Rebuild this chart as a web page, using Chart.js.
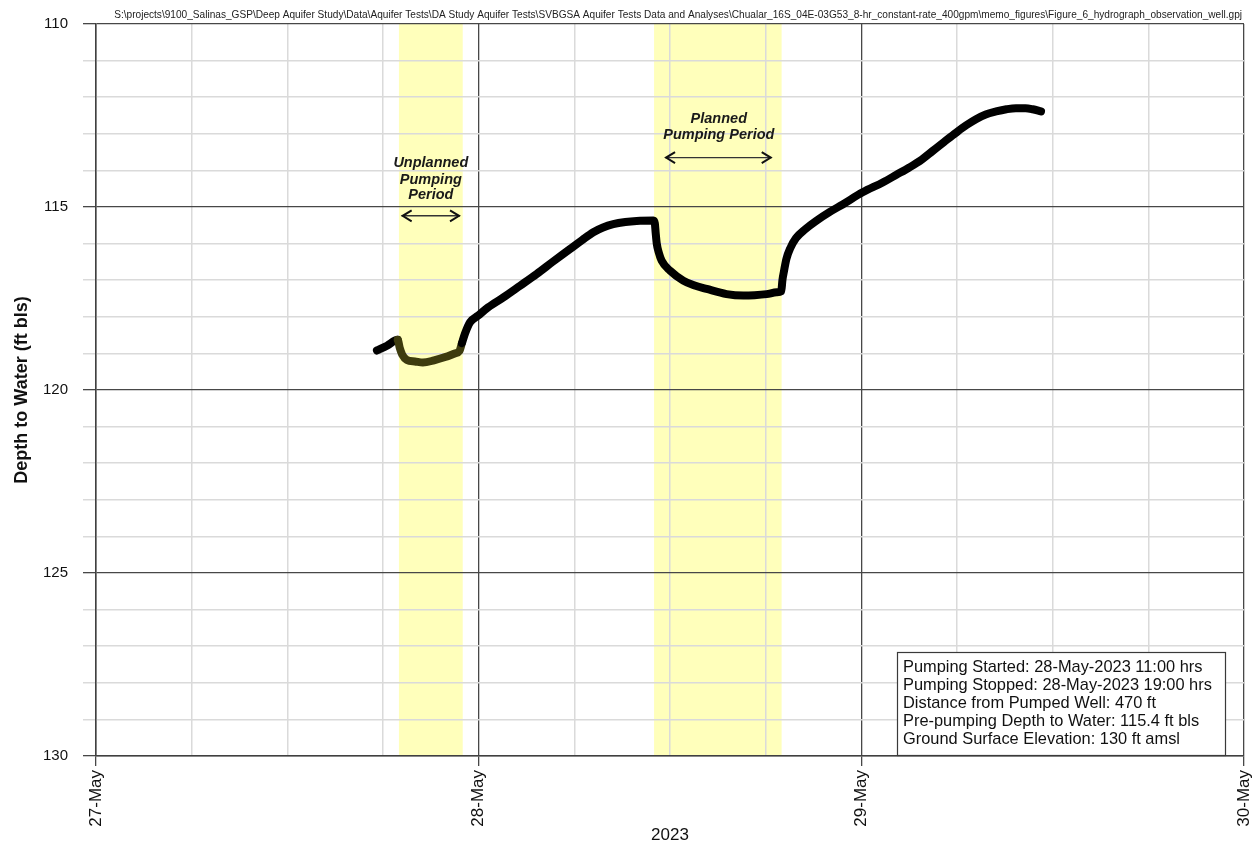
<!DOCTYPE html>
<html>
<head>
<meta charset="utf-8">
<title>Figure 6 - Hydrograph, Observation Well</title>
<script src="https://cdn.jsdelivr.net/npm/chart.js@4.4.1/dist/chart.umd.min.js"></script>
<style>
  html, body { margin: 0; padding: 0; background: #ffffff; }
  canvas { display: block; }
</style>
</head>
<body>
<canvas id="hydrograph" width="1256" height="848"></canvas>
<script>
// Project file path printed across the top of the figure
const filePath = 'S:\\projects\\9100_Salinas_GSP\\Deep Aquifer Study\\Data\\Aquifer Tests\\DA Study Aquifer Tests\\SVBGSA Aquifer Tests Data and Analyses\\Chualar_16S_04E-03G53_8-hr_constant-rate_400gpm\\memo_figures\\Figure_6_hydrograph_observation_well.gpj';

// Observation well record: hours after 27-May-2023 00:00 and depth to water (ft bls)
const elapsedHours = [
  17.62, 18.25, 18.92, 19.05, 19.2, 19.5, 20.0, 20.5, 21.2, 21.9, 22.5, 22.8, 22.95,
  23.15, 23.46, 23.96, 24.6, 25.55, 26.6, 27.64, 28.7, 29.73, 30.5, 31.19, 31.8, 32.44,
  33.2, 33.91, 34.96, 35.05, 35.1, 35.17, 35.3, 35.48, 36.0, 36.83, 37.5, 38.3, 39.55,
  40.6, 41.3, 42.06, 42.7, 42.98, 43.05, 43.15, 43.3, 43.55, 43.9, 44.5, 45.16, 46.0,
  46.83, 48.08, 49.34, 50.2, 51.01, 51.8, 52.47, 53.2, 53.94, 54.6, 55.19, 55.8, 56.45,
  57.1, 57.7, 58.3, 58.75, 59.27
];
const depthToWater = [
  118.92, 118.79, 118.63, 118.85, 119.03, 119.18, 119.22, 119.25, 119.19, 119.1, 119.0, 118.93, 118.72,
  118.45, 118.15, 117.97, 117.74, 117.47, 117.15, 116.83, 116.48, 116.15, 115.9, 115.69, 115.56, 115.47,
  115.41, 115.38, 115.37, 115.45, 115.7, 116.0, 116.25, 116.47, 116.74, 117.01, 117.14, 117.24, 117.38,
  117.42, 117.41, 117.38, 117.33, 117.3, 117.0, 116.75, 116.42, 116.12, 115.85, 115.6, 115.38, 115.14,
  114.93, 114.6, 114.33, 114.12, 113.92, 113.7, 113.47, 113.22, 112.97, 112.76, 112.6, 112.47, 112.39,
  112.33, 112.3, 112.3, 112.33, 112.39
];

// Pumping periods (hours after 27-May-2023 00:00): unplanned, planned
const pumpStartHours = [19, 35];
const pumpEndHours = [23, 43];

// Axis labels
const dayLabels = ['27-May', '28-May', '29-May', '30-May'];
const yearLabel = '2023';
const depthTitle = 'Depth to Water (ft bls)';

// Test summary
const infoLines = [
  'Pumping Started: 28-May-2023 11:00 hrs',
  'Pumping Stopped: 28-May-2023 19:00 hrs',
  'Distance from Pumped Well: 470 ft',
  'Pre-pumping Depth to Water: 115.4 ft bls',
  'Ground Surface Elevation: 130 ft amsl'
];

// Period labels with their arrows, placed in data units (hours, ft)
const periodNotes = [
  { lines: ['Unplanned', 'Pumping', 'Period'], x: 21.0, y: [113.8, 114.25, 114.66], arrow: [19.17, 22.83, 115.24] },
  { lines: ['Planned', 'Pumping Period'], x: 39.06, y: [112.6, 113.04], arrow: [35.69, 42.38, 113.65] }
];

const MAJOR = '#474747';
const MINOR = '#dadada';
const BAND = '#ffffbb';
const TRACE = '#000000';
const TRACE_UNPLANNED = '#3d3b0e';
const SANS = "'Liberation Sans', Arial, sans-serif";

const isMajorX = v => v % 24 === 0;
const isMajorY = v => v % 5 === 0;

const pumpingBands = {
  id: 'pumpingBands',
  beforeDraw(chart) {
    const { ctx, chartArea: a, scales: { x } } = chart;
    ctx.save();
    ctx.fillStyle = BAND;
    pumpStartHours.forEach((s, i) => {
      const x0 = x.getPixelForValue(s);
      const x1 = x.getPixelForValue(pumpEndHours[i]);
      ctx.fillRect(x0, a.top, x1 - x0, a.bottom - a.top);
    });
    ctx.restore();
  }
};

function drawArrow(ctx, x0, x1, y) {
  ctx.lineWidth = 1.4;
  ctx.strokeStyle = '#333';
  ctx.beginPath();
  ctx.moveTo(x0, y); ctx.lineTo(x1, y);
  ctx.stroke();
  ctx.lineWidth = 2;
  ctx.strokeStyle = '#111';
  ctx.beginPath();
  ctx.moveTo(x0 + 10, y - 5.5); ctx.lineTo(x0 + 1, y); ctx.lineTo(x0 + 10, y + 5.5);
  ctx.moveTo(x1 - 10, y - 5.5); ctx.lineTo(x1 - 1, y); ctx.lineTo(x1 - 10, y + 5.5);
  ctx.stroke();
}

const figureExtras = {
  id: 'figureExtras',
  afterDraw(chart) {
    const { ctx, chartArea: a, scales: { x, y } } = chart;
    ctx.save();

    // file path header, spanning the width above the plot
    let size = 11;
    ctx.font = `${size}px 'Liberation Sans Narrow', 'Liberation Sans', sans-serif`;
    const w = ctx.measureText(filePath).width;
    size = size * 1129 / w;
    ctx.font = `${size}px 'Liberation Sans Narrow', 'Liberation Sans', sans-serif`;
    ctx.fillStyle = '#222';
    ctx.textAlign = 'right';
    ctx.textBaseline = 'alphabetic';
    ctx.fillText(filePath, a.right - 2, 18);

    // period labels and arrows
    ctx.font = `italic bold 14.5px ${SANS}`;
    ctx.fillStyle = '#1a1a1a';
    ctx.textAlign = 'center';
    ctx.textBaseline = 'middle';
    periodNotes.forEach(n => {
      const cx = x.getPixelForValue(n.x);
      n.lines.forEach((t, i) => ctx.fillText(t, cx, y.getPixelForValue(n.y[i])));
      drawArrow(ctx, x.getPixelForValue(n.arrow[0]), x.getPixelForValue(n.arrow[1]), y.getPixelForValue(n.arrow[2]));
    });

    // test summary box
    const bx = a.right - 347, by = a.bottom - 104, bw = 328, bh = 103;
    ctx.fillStyle = '#ffffff';
    ctx.fillRect(bx, by, bw, bh);
    ctx.strokeStyle = '#3a3a3a';
    ctx.lineWidth = 1.2;
    ctx.strokeRect(bx + 0.5, by + 0.5, bw, bh);
    ctx.font = `16.4px ${SANS}`;
    ctx.fillStyle = '#111';
    ctx.textAlign = 'left';
    ctx.textBaseline = 'alphabetic';
    infoLines.forEach((t, i) => ctx.fillText(t, bx + 6, by + 20 + i * 18.1));

    ctx.restore();
  }
};

const points = elapsedHours.map((h, i) => ({ x: h, y: depthToWater[i] }));

new Chart(document.getElementById('hydrograph'), {
  type: 'line',
  data: {
    datasets: [{
      data: points,
      borderColor: TRACE,
      borderWidth: 8,
      pointRadius: 0,
      borderCapStyle: 'round',
      borderJoinStyle: 'round',
      cubicInterpolationMode: 'monotone',
      segment: {
        borderColor: c => (c.p0.parsed.x >= pumpStartHours[0] - 0.1 && c.p1.parsed.x <= pumpEndHours[0]) ? TRACE_UNPLANNED : undefined
      }
    }]
  },
  options: {
    responsive: false,
    animation: false,
    devicePixelRatio: 1,
    layout: { padding: { top: 23, right: 12, left: 0, bottom: 0 } },
    plugins: { legend: { display: false }, tooltip: { enabled: false } },
    scales: {
      x: {
        type: 'linear',
        min: 0,
        max: 72,
        afterFit: s => { s.height = 92; s.paddingLeft = 0; s.paddingRight = 0; },
        ticks: {
          stepSize: 6,
          autoSkip: false,
          minRotation: 90,
          maxRotation: 90,
          padding: 4,
          color: '#111',
          font: { family: SANS, size: 17 },
          callback: v => isMajorX(v) ? dayLabels[v / 24] : ''
        },
        grid: {
          color: c => (c.tick && isMajorX(c.tick.value)) ? MAJOR : MINOR,
          lineWidth: c => (c.tick && isMajorX(c.tick.value)) ? 1.3 : 1.5,
          tickColor: c => (c.tick && isMajorX(c.tick.value)) ? MAJOR : 'rgba(0,0,0,0)',
          tickLength: 10
        },
        border: { color: '#404040', width: 1.5 },
        title: {
          display: true,
          text: yearLabel,
          color: '#111',
          font: { family: SANS, size: 17 },
          padding: { top: 0, bottom: 2 }
        }
      },
      y: {
        type: 'linear',
        reverse: true,
        min: 110,
        max: 130,
        afterFit: s => { s.width = 96; },
        ticks: {
          stepSize: 1,
          autoSkip: false,
          padding: 15,
          color: '#111',
          font: { family: SANS, size: 15 },
          callback: v => isMajorY(v) ? String(v) : ''
        },
        grid: {
          color: c => (c.tick && isMajorY(c.tick.value)) ? MAJOR : MINOR,
          lineWidth: c => (c.tick && isMajorY(c.tick.value)) ? 1.3 : 1.5,
          tickColor: c => (c.tick && isMajorY(c.tick.value)) ? MAJOR : MINOR,
          tickLength: 13
        },
        border: { color: '#404040', width: 1.5 },
        title: {
          display: true,
          text: depthTitle,
          color: '#111',
          font: { family: SANS, size: 18, weight: 'bold' },
          padding: { top: 11, bottom: 0 }
        }
      }
    }
  },
  plugins: [pumpingBands, figureExtras]
});
</script>
</body>
</html>
